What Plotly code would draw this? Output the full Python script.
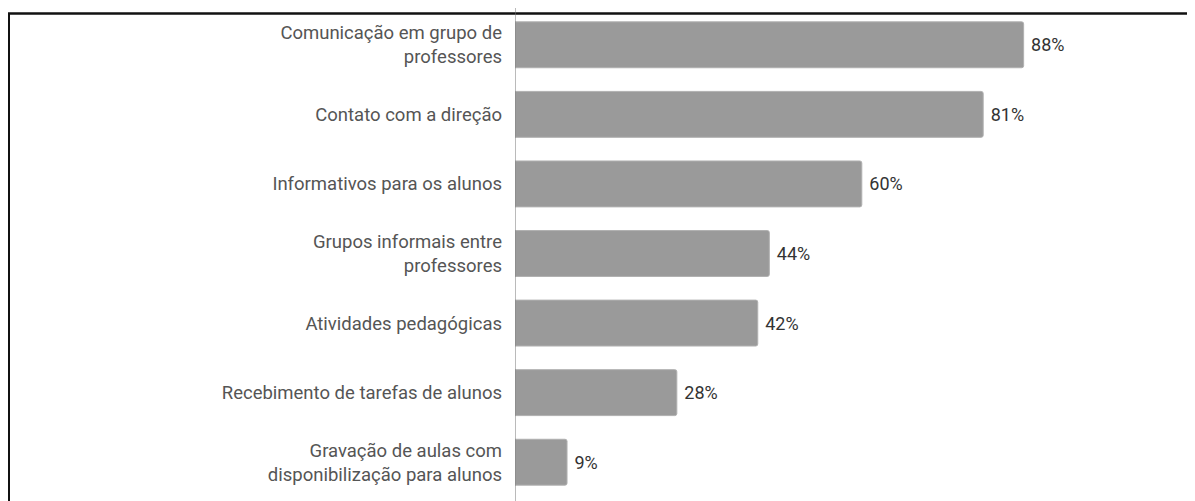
import plotly.graph_objects as go

categories = [
    "Comunicação em grupo de<br>professores",
    "Contato com a direção",
    "Informativos para os alunos",
    "Grupos informais entre<br>professores",
    "Atividades pedagógicas",
    "Recebimento de tarefas de alunos",
    "Gravação de aulas com<br>disponibilização para alunos",
]
values = [88, 81, 60, 44, 42, 28, 9]
value_labels = [f"\u00a0{v}%" for v in values]

# the page places the figure 8px from the top-left corner
W, H = 1187, 493
ML, MR, MT, MB = 507, 0, 2, 4
pw = W - ML - MR
ph = H - MT - MB

def px2paper_x(px):
    return (px - ML) / pw

def px2paper_y(py):
    return 1 - (py - MT) / ph

fig = go.Figure(
    go.Bar(
        y=categories,
        x=values,
        orientation="h",
        text=value_labels,
        textposition="outside",
        textfont=dict(family="Roboto", size=18, color="#333333"),
        marker=dict(color="#9a9a9a", line=dict(color="#b0b0b0", width=1), cornerradius=2),
        cliponaxis=False,
    )
)

shapes = [
    # frame top
    dict(type="line", xref="paper", yref="paper",
         x0=px2paper_x(0), x1=px2paper_x(W + 2), y0=px2paper_y(5.5), y1=px2paper_y(5.5),
         line=dict(color="#111111", width=2.5)),
    # frame left
    dict(type="line", xref="paper", yref="paper",
         x0=px2paper_x(1), x1=px2paper_x(1), y0=px2paper_y(5), y1=px2paper_y(H + 2),
         line=dict(color="#111111", width=2)),
    # axis line
    dict(type="line", xref="x", yref="paper",
         x0=0, x1=0, y0=px2paper_y(0), y1=px2paper_y(H + 2),
         line=dict(color="#777777", width=1)),
]

fig.update_layout(
    width=W, height=H,
    margin=dict(l=ML, r=MR, t=MT, b=MB, autoexpand=False),
    paper_bgcolor="white", plot_bgcolor="white",
    bargap=0.34,
    showlegend=False,
    shapes=shapes,
    font=dict(family="Roboto", size=18.5, color="#555555"),
    xaxis=dict(range=[0, pw / 5.78], visible=False, fixedrange=True),
    yaxis=dict(autorange="reversed", showline=False, showgrid=False, zeroline=False,
               ticks="", ticklabelstandoff=12, automargin=False,
               tickfont=dict(family="Roboto", size=18.5, color="#555555")),
)

fig.write_html("out.html")
